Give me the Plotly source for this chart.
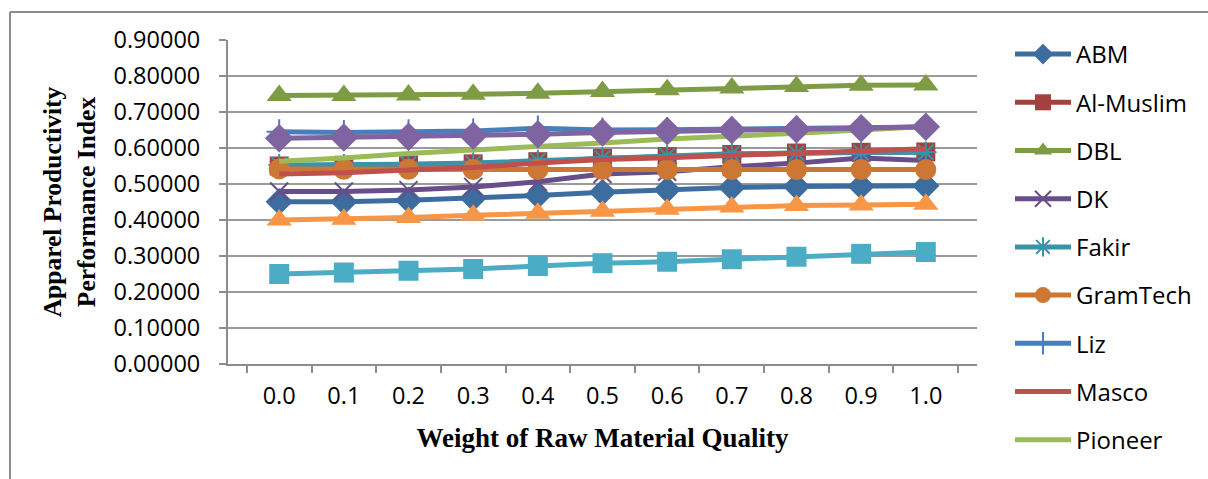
import plotly.graph_objects as go

weights = ["0.0", "0.1", "0.2", "0.3", "0.4", "0.5", "0.6", "0.7", "0.8", "0.9", "1.0"]

abm = [0.451, 0.451, 0.455, 0.461, 0.468, 0.477, 0.484, 0.490, 0.493, 0.494, 0.495]
al_muslim = [0.550, 0.552, 0.553, 0.556, 0.562, 0.571, 0.576, 0.582, 0.586, 0.588, 0.589]
dbl = [0.746, 0.746, 0.747, 0.749, 0.752, 0.757, 0.762, 0.767, 0.771, 0.774, 0.775]
dk = [0.479, 0.479, 0.483, 0.492, 0.506, 0.528, 0.534, 0.548, 0.558, 0.572, 0.565]
fakir = [0.553, 0.553, 0.555, 0.558, 0.565, 0.572, 0.578, 0.584, 0.586, 0.587, 0.588]
gramtech = [0.542, 0.541, 0.541, 0.540, 0.540, 0.540, 0.540, 0.540, 0.540, 0.540, 0.540]
liz = [0.645, 0.643, 0.645, 0.647, 0.655, 0.650, 0.651, 0.653, 0.655, 0.657, 0.658]
masco = [0.528, 0.531, 0.539, 0.546, 0.558, 0.568, 0.573, 0.580, 0.587, 0.593, 0.598]
pioneer = [0.563, 0.572, 0.585, 0.594, 0.604, 0.614, 0.625, 0.632, 0.641, 0.650, 0.660]
series10 = [0.627, 0.629, 0.631, 0.634, 0.638, 0.643, 0.647, 0.650, 0.652, 0.655, 0.659]
series11 = [0.250, 0.254, 0.259, 0.264, 0.272, 0.280, 0.284, 0.291, 0.298, 0.306, 0.311]
series12 = [0.400, 0.402, 0.407, 0.413, 0.419, 0.424, 0.430, 0.436, 0.440, 0.442, 0.444]

series = [
    ("ABM", abm, "#3D6C9F", "diamond", 21, True),
    ("Al-Muslim", al_muslim, "#A4403D", "square", 19, True),
    ("DBL", dbl, "#7E9C46", "triangle-up", 22, True),
    ("DK", dk, "#674E8A", "x-thin-open", 18, True),
    ("Fakir", fakir, "#3A93A8", "asterisk-open", 18, True),
    ("GramTech", gramtech, "#CC7733", "circle", 21, True),
    ("Liz", liz, "#4A7EBB", "cross-thin-open", 18, True),
    ("Masco", masco, "#C0504D", None, 0, True),
    ("Pioneer", pioneer, "#9BBB59", None, 0, True),
    ("Series 10", series10, "#8064A2", "diamond", 22, False),
    ("Series 11", series11, "#4BACC6", "square", 20, False),
    ("Series 12", series12, "#F79646", "triangle-up", 22, False),
]

W, H = 1208, 479
L, R, T, B = 228, 231, 40, 115
pw, ph = W - L - R, H - T - B

def px(x):
    return (x - L) / pw

def py(y):
    return (H - B - y) / ph

fig = go.Figure()
for i, (name, vals, color, sym, size, show) in enumerate(series):
    if sym is None:
        mode = "lines"
        marker = None
    else:
        mode = "lines+markers"
        if sym.endswith("open"):
            marker = dict(symbol=sym, size=size, color=color, line=dict(color=color, width=2))
        else:
            marker = dict(symbol=sym, size=size, color=color, line=dict(width=0))
    fig.add_trace(go.Scatter(
        x=weights, y=vals, name=name, mode=mode,
        line=dict(color=color, width=5),
        marker=marker, showlegend=show, legendgroup="g%d" % i,
    ))

fig.update_layout(
    width=W, height=H,
    margin=dict(l=L, r=R, t=T, b=B, autoexpand=False),
    paper_bgcolor="white", plot_bgcolor="white",
    font=dict(family="Open Sans", size=23, color="black"),
    legend=dict(
        x=px(1010), y=py(32), xanchor="left", yanchor="top",
        font=dict(family="Open Sans", size=24, color="black"),
        tracegroupgap=14, itemwidth=56, maxheight=470, bgcolor="rgba(0,0,0,0)",
    ),
    xaxis=dict(
        type="category", showgrid=False, showline=True, linecolor="#8c8c8c", linewidth=2,
        ticks="outside", tickson="boundaries", ticklen=7, tickcolor="#8c8c8c", tickwidth=2,
        tickfont=dict(family="Open Sans", size=23.5), ticklabelstandoff=10,
        title=dict(text="Weight of Raw Material Quality", standoff=18,
                   font=dict(family="Liberation Serif", size=27, color="black", weight="bold")),
    ),
    yaxis=dict(
        range=[0, 0.9], dtick=0.1, tickformat=".5f", showgrid=True, gridcolor="#9a9a9a", gridwidth=2,
        showline=True, linecolor="#8c8c8c", linewidth=2, zeroline=False,
        ticks="outside", ticklen=7, tickcolor="#8c8c8c", tickwidth=2,
        tickfont=dict(family="Open Sans", size=23.5), ticklabelstandoff=14,
        title=dict(text="Apparel Productivity<br>Performance Index", standoff=11,
                   font=dict(family="Liberation Serif", size=25.5, color="black", weight="bold")),
    ),
    shapes=[
        dict(type="line", xref="paper", yref="paper", x0=px(10), x1=px(W + 5), y0=py(12), y1=py(12),
             line=dict(color="#8c8c8c", width=2)),
        dict(type="line", xref="paper", yref="paper", x0=px(10), x1=px(10), y0=py(12), y1=py(H + 5),
             line=dict(color="#8c8c8c", width=2)),
    ],
)

fig.write_html("out.html")
